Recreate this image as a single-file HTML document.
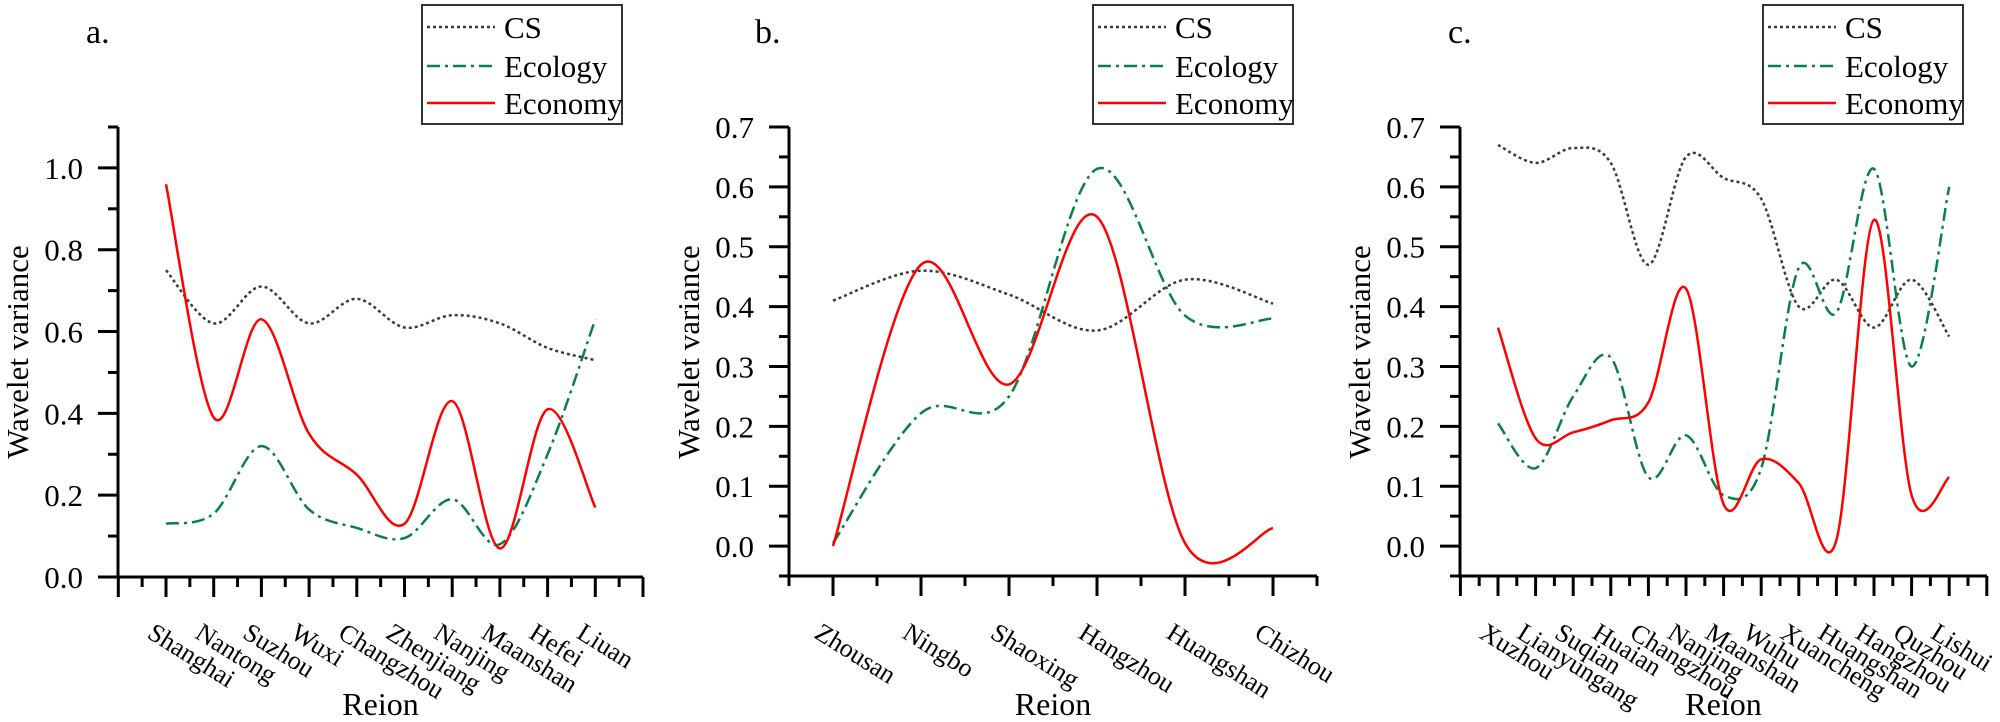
<!DOCTYPE html>
<html><head><meta charset="utf-8"><style>
html,body{margin:0;padding:0;background:#fff;}
svg{display:block;}
svg text{font-family:"Liberation Serif","Times New Roman",serif;}
</style></head><body>
<svg id="chart" width="2000" height="722" viewBox="0 0 2000 722" xmlns="http://www.w3.org/2000/svg" font-family="Liberation Serif, serif"></svg>
<script>
const catsA = ["Shanghai","Nantong","Suzhou","Wuxi","Changzhou","Zhenjiang","Nanjing","Maanshan","Hefei","Liuan"];
const csA = [0.75,0.62,0.71,0.62,0.68,0.61,0.64,0.62,0.56,0.53];
const ecoA = [0.13,0.155,0.32,0.165,0.12,0.095,0.19,0.08,0.30,0.63];
const econA = [0.96,0.39,0.63,0.35,0.25,0.13,0.43,0.07,0.41,0.17];
const ticksA = ["0.0","0.2","0.4","0.6","0.8","1.0"];

const catsB = ["Zhousan","Ningbo","Shaoxing","Hangzhou","Huangshan","Chizhou"];
const csB = [0.41,0.46,0.42,0.36,0.445,0.405];
const ecoB = [0.005,0.222,0.25,0.63,0.385,0.38];
const econB = [0.0,0.47,0.27,0.55,0.005,0.03];
const ticksB = ["0.0","0.1","0.2","0.3","0.4","0.5","0.6","0.7"];

const catsC = ["Xuzhou","Lianyungang","Suqian","Huaian","Changzhou","Nanjing","Maanshan","Wuhu","Xuancheng","Huangshan","Hangzhou","Quzhou","Lishui"];
const csC = [0.67,0.64,0.665,0.64,0.47,0.65,0.615,0.58,0.40,0.445,0.365,0.445,0.35];
const ecoC = [0.205,0.13,0.25,0.315,0.115,0.185,0.085,0.13,0.465,0.39,0.63,0.30,0.60];
const econC = [0.365,0.18,0.19,0.21,0.24,0.43,0.07,0.145,0.105,0.01,0.545,0.085,0.115];
const ticksC = ["0.0","0.1","0.2","0.3","0.4","0.5","0.6","0.7"];

const NS = "http://www.w3.org/2000/svg";
const svg = document.getElementById('chart');
function mk(tag, attrs, parent){const e=document.createElementNS(NS,tag);for(const k in attrs)e.setAttribute(k,attrs[k]);if(tag==='text')e.setAttribute('font-family','Liberation Serif, serif');(parent||svg).appendChild(e);return e;}

function spline(pts){
  let d = "M"+pts[0][0].toFixed(1)+","+pts[0][1].toFixed(1);
  for(let i=0;i<pts.length-1;i++){
    const p0=pts[Math.max(0,i-1)],p1=pts[i],p2=pts[i+1],p3=pts[Math.min(pts.length-1,i+2)];
    const c1=[p1[0]+(p2[0]-p0[0])/6,p1[1]+(p2[1]-p0[1])/6];
    const c2=[p2[0]-(p3[0]-p1[0])/6,p2[1]-(p3[1]-p1[1])/6];
    d+=" C"+c1[0].toFixed(1)+","+c1[1].toFixed(1)+" "+c2[0].toFixed(1)+","+c2[1].toFixed(1)+" "+p2[0].toFixed(1)+","+p2[1].toFixed(1);
  }
  return d;
}

function panel(cfg){
  const g = mk('g',{});
  
  
  const {x0,x1,first,step,yTop,yBot,ymin,ymax,cats,tickLabels,tickStep,minorStep} = cfg;
  const X = i => first + i*step;
  const Y = v => yBot - (v-ymin)/(ymax-ymin)*(yBot-yTop);
  const ax = mk('g',{},g);
  
  
  mk('line',{x1:x0,y1:yTop,x2:x0,y2:yBot+1.5,stroke:'#000','stroke-width':3},ax);
  mk('line',{x1:x0-10,y1:yBot,x2:x1,y2:yBot,stroke:'#000','stroke-width':3},ax);
  const nMinor = Math.round((ymax-ymin)/minorStep);
  for(let k=0;k<=nMinor;k++){
    const v = ymin + k*minorStep;
    const rel = (v - cfg.labelStart)/tickStep;
    const major = Math.abs(rel-Math.round(rel))<1e-6 && v>=cfg.labelStart-1e-9;
    if(Math.abs(v-ymin)<1e-9 && !major) continue;
    mk('line',{x1:x0-(major?20:10),y1:Y(v),x2:x0,y2:Y(v),stroke:'#000','stroke-width':3},ax);
  }
  tickLabels.forEach((t,i)=>{
    const v = cfg.labelStart + i*tickStep;
    const tx = mk('text',{x:x0-35,y:Y(v)+11,'text-anchor':'end','font-size':31},ax);
    
    
    tx.textContent=t;
  });
  const half = step/2;
  for(let p=cfg.xStartOffset; X(0)+p*half <= x1+0.5; p++){
    const xx = X(0)+p*half;
    if(xx < x0-0.5) continue;
    const major = (p%2===0);
    mk('line',{x1:xx,y1:yBot,x2:xx,y2:yBot+(major?20:10),stroke:'#000','stroke-width':3},ax);
  }
  cats.forEach((c,i)=>{
    const tx = mk('text',{transform:`translate(${X(i)-20},${637}) rotate(32)`,'font-size':26},ax);
    
    
    tx.textContent=c;
  });
  const yt = mk('text',{transform:`translate(${x0-90},${352}) rotate(-90)`,'text-anchor':'middle','font-size':31},g);
  
  
  yt.textContent='Wavelet variance';
  const xt = mk('text',{x:(x0+x1)/2,y:715,'text-anchor':'middle','font-size':32},g);
  
  
  xt.textContent='Reion';
  const pl = mk('text',{x:cfg.lx,y:43,'font-size':34},g);
  
  
  pl.textContent=cfg.label;
  const series = [
    {n:'cs-line',d:cfg.cs,stroke:'#3a3a3a',dash:'3 3',w:2.5},
    {n:'ecology-line',d:cfg.eco,stroke:'#0a8048',dash:'13 5 3 5',w:2.5},
    {n:'economy-line',d:cfg.econ,stroke:'#ff0000',dash:'',w:2.5}
  ];
  series.forEach(s=>{
    const p = mk('path',{d:spline(s.d.map((v,i)=>[X(i),Y(v)])),fill:'none',stroke:s.stroke,'stroke-width':s.w,'stroke-dasharray':s.dash},g);
    
    
  });
  const lg = mk('g',{},g);
  
  
  const L = cfg.legX;
  mk('rect',{x:L,y:5,width:200,height:119,fill:'#fff',stroke:'#333','stroke-width':2},lg);
  const names=['CS','Ecology','Economy'];
  [27,66,103].forEach((yy,i)=>{
    const s=series[i];
    mk('line',{x1:L+5,y1:yy,x2:L+73,y2:yy,stroke:s.stroke,'stroke-width':s.w,'stroke-dasharray':s.dash},lg);
    const t=mk('text',{x:L+82,y:yy+11,'font-size':31},lg);
    
    
    t.textContent=names[i];
  });
}

panel({name:'panel-a',label:'a.',lx:86,x0:118,x1:643,first:166,step:47.7,yTop:127,yBot:577,ymin:0,ymax:1.1,cats:catsA,tickLabels:ticksA,labelStart:0,tickStep:0.2,minorStep:0.1,xStartOffset:-2,cs:csA,eco:ecoA,econ:econA,legX:422});
panel({name:'panel-b',label:'b.',lx:755,x0:789,x1:1317,first:833,step:88,yTop:127,yBot:576,ymin:-0.05,ymax:0.7,cats:catsB,tickLabels:ticksB,labelStart:0,tickStep:0.1,minorStep:0.05,xStartOffset:-1,cs:csB,eco:ecoB,econ:econB,legX:1093});
panel({name:'panel-c',label:'c.',lx:1448,x0:1460,x1:1987,first:1498,step:37.6,yTop:127,yBot:576,ymin:-0.05,ymax:0.7,cats:catsC,tickLabels:ticksC,labelStart:0,tickStep:0.1,minorStep:0.05,xStartOffset:-2,cs:csC,eco:ecoC,econ:econC,legX:1763});
</script>
</body></html>
